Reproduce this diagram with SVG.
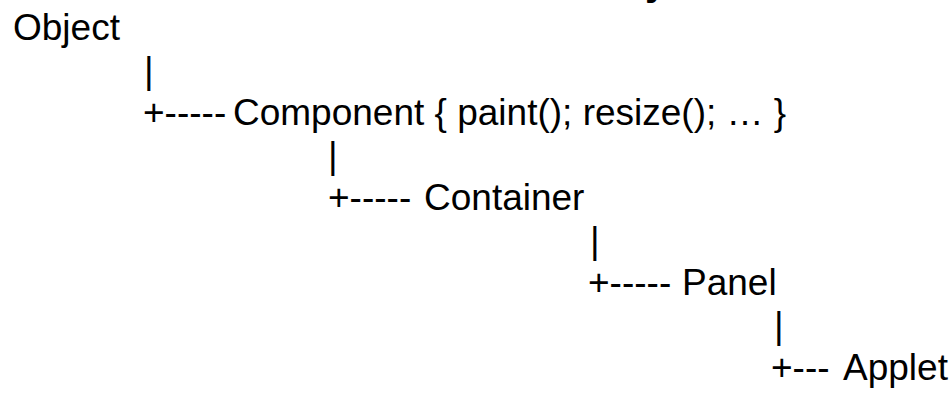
<svg xmlns="http://www.w3.org/2000/svg" width="950" height="403" viewBox="0 0 950 403">
  <style>
    text { font-family: "Liberation Sans", Arial, sans-serif; font-size: 37px; fill: #000; }
    .title { font-weight: bold; font-size: 40px; }
  </style>
  <rect width="950" height="403" fill="#fff"/>
  <!-- heading above the frame; only its last descender reaches into view -->
  <text class="title" x="645" y="-5">y</text>

  <g id="connectors">
    <text x="144" y="82.5">|</text>
    <text x="143" y="125">+-----</text>
    <text x="328" y="167.5">|</text>
    <text x="328" y="210">+-----</text>
    <text x="590" y="252.5">|</text>
    <text x="588" y="295">+-----</text>
    <text x="774" y="337.5">|</text>
    <text x="771" y="380">+---</text>
  </g>

  <g id="node-object"><text x="13" y="40">Object</text></g>
  <g id="node-component"><text x="233" y="125">Component { paint(); resize(); … }</text></g>
  <g id="node-container"><text x="424" y="210">Container</text></g>
  <g id="node-panel"><text x="682" y="295">Panel</text></g>
  <g id="node-applet"><text x="843" y="380">Applet</text></g>
</svg>
